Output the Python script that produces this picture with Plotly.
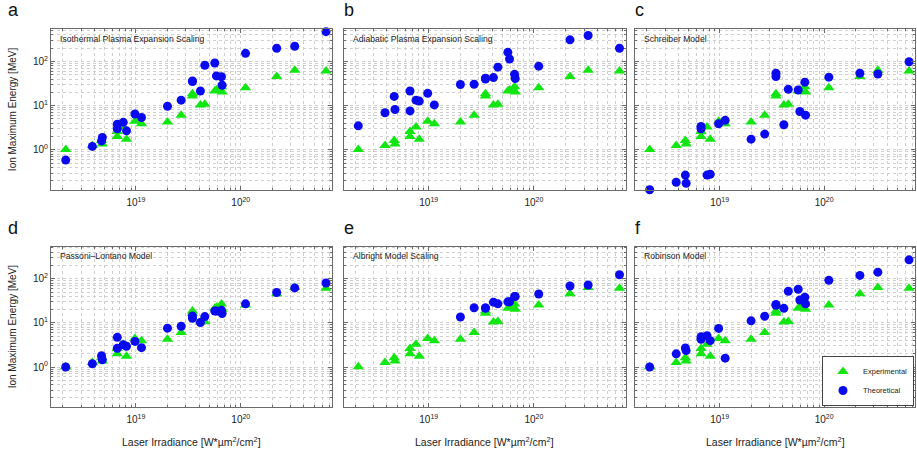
import plotly.graph_objects as go

# ---------------- data ----------------
irradiance = [2.14e18, 3.84e18, 4.70e18, 4.78e18, 6.64e18, 6.64e18, 7.57e18, 8.13e18,
              9.78e18, 1.13e19, 2.00e19, 2.70e19, 3.46e19, 3.46e19, 4.12e19, 4.54e19,
              5.65e19, 5.86e19, 6.54e19, 6.64e19, 1.11e20, 2.20e20, 3.27e20, 6.50e20]

experimental = [1.02, 1.26, 1.63, 1.37, 2.62, 2.01, 3.29, 1.75, 4.43, 3.92, 4.28, 6.07,
                18.6, 16.5, 10.4, 10.8, 21.4, 22.6, 26.9, 20.3, 25.5, 45.5, 63.3, 61.0]

isothermal = [0.59, 1.2, 1.6, 1.91, 3.8, 3.0, 4.2, 2.7, 6.5, 5.4, 9.7, 13.3,
              36, 35, 21.4, 82, 92, 47, 45, 29, 152, 198, 220, 470]

adiabatic = [3.5, 6.9, 16.2, 8.2, 21.4, 7.6, 13.3, 12.7, 19, 10.4, 30, 30.4,
             41.7, 40, 43, 74, 160, 113, 51, 41, 78, 307, 385, 198]

schreiber = [0.126, 0.186, 0.27, 0.177, 3.4, 3.0, 0.27, 0.283, 3.9, 4.67, 1.75, 2.28,
             54, 45.5, 3.7, 23.4, 22.6, 7.4, 34, 6.1, 44, 54, 52, 98]

passoni = [1.0, 1.19, 1.8, 1.46, 4.7, 2.66, 3.2, 2.95, 3.8, 2.75, 7.6, 8.4,
           14.3, 12.7, 10.2, 13.9, 18.6, 18.6, 19.2, 16.2, 27, 48.6, 62, 80]

albright = [None, None, None, None, None, None, None, None, None, None, 13.6, 22,
            21.7, 21.7, 29.5, 27, 30, 30, 39.5, 39.5, 45, 68.5, 72, 123]

robinson = [1.0, 1.99, 2.71, 2.36, 4.86, 4.24, 5.1, 3.95, 7.5, 1.59, 11.1, 14.1,
            26, 25, 21.3, 52, 57.7, 33, 38, 27, 92, 119, 141, 268]

panel_titles = ["Isothermal Plasma Expansion Scaling", "Adiabatic Plasma Expansion Scaling",
                "Schreiber Model", "Passoni\u2013Lontano Model", "Albright Model Scaling",
                "Robinson Model"]
panel_letters = ["a", "b", "c", "d", "e", "f"]
models = [isothermal, adiabatic, schreiber, passoni, albright, robinson]

x_major = [1e19, 1e20]
x_major_text = ["10<sup>19</sup>", "10<sup>20</sup>"]
y_major = [1, 10, 100]
y_major_text = ["10<sup>0</sup>", "10<sup>1</sup>", "10<sup>2</sup>"]
x_minor = [k * 10.0 ** n for n in (18, 19, 20) for k in range(2, 10)]
y_minor = [k * 10.0 ** n for n in (-1, 0, 1, 2) for k in range(2, 10)]

# ---------------- layout geometry ----------------
W, H = 917, 453
cols = [(51, 332), (343.5, 625.5), (635, 915)]
rows = [(29.3, 190), (246.7, 407)]
x_range = [18.19, 20.87]
y_range = [-0.905, 2.725]

GREEN = "#12e612"
BLUE = "#0a0aee"
FONT = "Liberation Sans, Arial, sans-serif"
GRID = "#cfcfcf"
LINE = "#6a6a6a"

fig = go.Figure()
annotations = []

for i in range(6):
    r, c = divmod(i, 3)
    ax = "" if i == 0 else str(i + 1)
    xa, ya = "x" + ax, "y" + ax
    last = (i == 5)
    fig.add_trace(go.Scatter(
        x=irradiance, y=experimental, mode="markers", name="Experimental",
        marker=dict(symbol="triangle-up", size=10, color=GREEN),
        xaxis=xa, yaxis=ya, showlegend=last, cliponaxis=False))
    fig.add_trace(go.Scatter(
        x=irradiance, y=models[i], mode="markers", name="Theoretical",
        marker=dict(symbol="circle", size=9, color=BLUE),
        xaxis=xa, yaxis=ya, showlegend=last, cliponaxis=False))

    x0, x1 = cols[c]
    y0, y1 = rows[r]
    common = dict(type="log", showline=True, linecolor=LINE, linewidth=1, mirror="allticks",
                  ticks="inside", ticklen=4, tickcolor=LINE, automargin=False,
                  showgrid=True, gridcolor=GRID, griddash="dot", gridwidth=1,
                  zeroline=False, tickfont=dict(family=FONT, size=10, color="#222"))
    xaxis = dict(common, domain=[x0 / W, x1 / W], range=x_range, anchor=ya,
                 tickmode="array", tickvals=x_major, ticktext=x_major_text,
                 ticklabelstandoff=3,
                 minor=dict(tickmode="array", tickvals=x_minor, showgrid=True, gridcolor=GRID,
                            griddash="dot", ticks="inside", ticklen=2, tickcolor=LINE))
    yaxis = dict(common, domain=[1 - y1 / H, 1 - y0 / H], range=y_range, anchor=xa,
                 tickmode="array", tickvals=y_major, ticktext=y_major_text,
                 showticklabels=(c == 0),
                 minor=dict(tickmode="array", tickvals=y_minor, showgrid=True, gridcolor=GRID,
                            griddash="dot", ticks="inside", ticklen=2, tickcolor=LINE))
    fig.update_layout({"xaxis" + ax: xaxis, "yaxis" + ax: yaxis})

    annotations.append(dict(text=panel_titles[i], xref=xa + " domain", yref=ya + " domain",
                            x=0.025, y=0.985, xanchor="left", yanchor="top", showarrow=False,
                            font=dict(family=FONT, size=8.6, color="#222")))
    annotations.append(dict(text=panel_letters[i], xref="paper", yref="paper",
                            x=(x0 - 45) / W if c == 0 else (x0 - 2) / W,
                            y=1 - (y0 - 7) / H, xanchor="left", yanchor="bottom",
                            showarrow=False, font=dict(family=FONT, size=18, color="#111")))

for r in range(2):
    y0, y1 = rows[r]
    annotations.append(dict(text="Ion Maximum Energy [MeV]", xref="paper", yref="paper",
                            x=12.5 / W, y=1 - ((y0 + y1) / 2) / H, textangle=-90,
                            xanchor="center", yanchor="middle", showarrow=False,
                            font=dict(family=FONT, size=10, color="#222")))
for c in range(3):
    x0, x1 = cols[c]
    annotations.append(dict(text="Laser Irradiance [W*\u00b5m<sup>2</sup>/cm<sup>2</sup>]",
                            xref="paper", yref="paper", x=(x0 + x1) / 2 / W, y=1 - 441 / H,
                            xanchor="center", yanchor="middle", showarrow=False,
                            font=dict(family=FONT, size=10.5, color="#222")))

fig.update_layout(
    width=W, height=H, margin=dict(l=0, r=0, t=0, b=0, autoexpand=False),
    paper_bgcolor="white", plot_bgcolor="white",
    font=dict(family=FONT, color="#222"),
    annotations=annotations,
    legend=dict(x=914 / W, xanchor="right", y=1 - 406 / H, yanchor="bottom",
                bgcolor="white", bordercolor="#444", borderwidth=1,
                font=dict(family=FONT, size=7.5), tracegroupgap=0, itemwidth=30),
)

fig.write_html("out.html", config={"displayModeBar": False},
               post_script="document.body.style.margin='0';document.body.style.overflow='hidden';")
